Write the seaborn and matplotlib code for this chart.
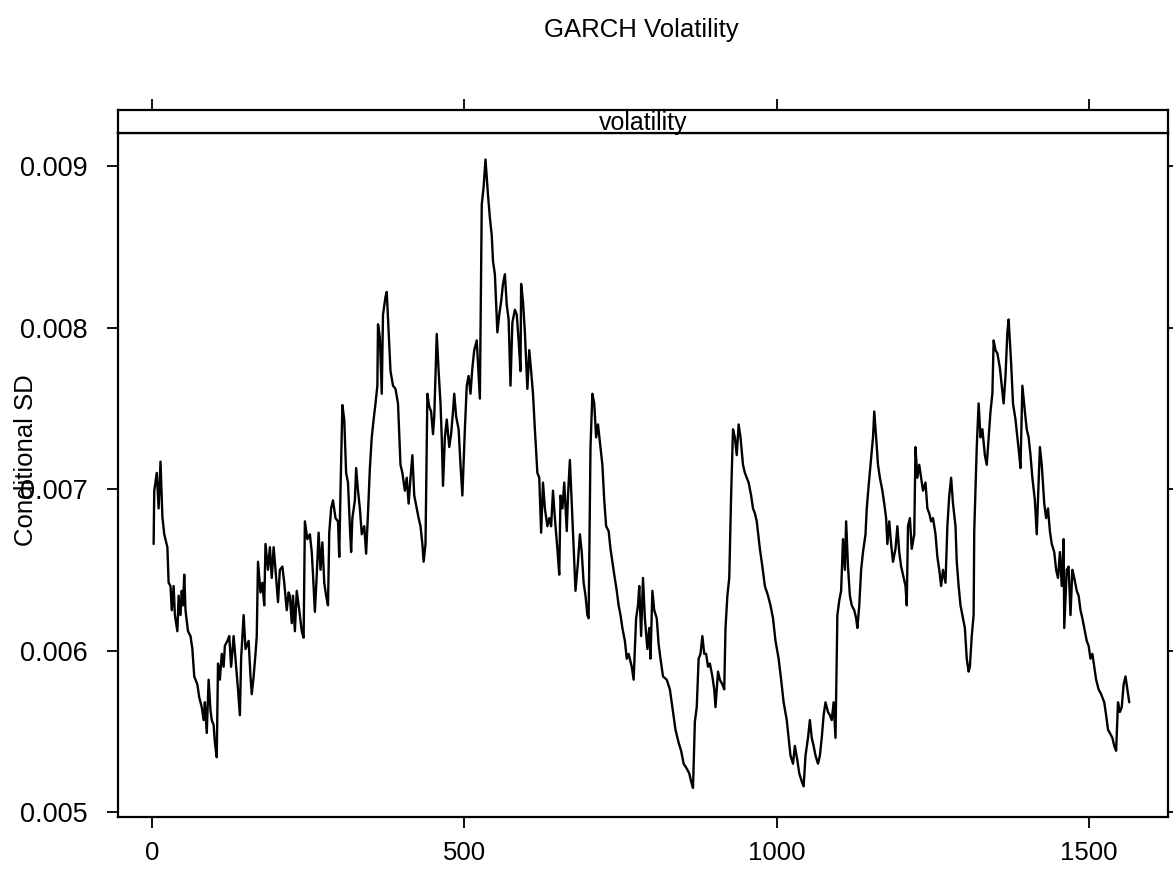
import matplotlib
matplotlib.use("Agg")
import matplotlib.pyplot as plt
import seaborn as sns
import pandas as pd

# ---- data ----
time_index = [
    3, 4, 8, 11, 14, 17, 20, 25, 27, 30, 32, 35, 37, 41, 43, 46, 48, 50, 52, 54, 58, 62, 65, 68, 73, 76, 80, 83, 85, 88, 91, 94, 96, 99, 101, 104,
    106, 109, 112, 115, 117, 121, 124, 127, 131, 134, 138, 141, 143, 147, 150, 155, 158, 160, 163, 166, 168, 170, 174, 177, 180, 182, 186, 189,
    192, 195, 198, 202, 205, 209, 212, 216, 219,
    221, 224, 226, 229, 232, 236, 240, 243, 245, 249, 253, 256, 258, 261, 264, 267, 270, 273, 276, 279, 282, 284, 287, 290, 294, 298, 300, 302,
    305, 308, 311, 314, 317, 319, 321, 325, 327, 330, 333, 336, 340, 343, 346, 349, 352, 355, 358, 361, 362, 365, 368, 370, 374, 376, 379, 382,
    386, 390, 394, 398, 401, 405, 408, 411, 414, 417, 420, 424, 427, 430, 433, 435, 438, 441, 444, 447, 450, 452, 456, 459, 462, 464, 466, 469,
    472, 476, 479, 482, 484, 487, 491, 494, 497,
    501, 504, 507, 510, 513, 516, 520, 523, 525, 528, 531, 534, 538, 541, 544, 546, 549, 553, 556, 559, 562, 565, 568, 571, 574, 577, 581, 584,
    587, 590, 591, 594, 597, 601, 604, 607, 610, 613, 617, 620, 623, 626, 629, 633, 636, 639, 642, 645, 649, 652, 654, 657, 660, 664, 666, 669,
    672, 675, 678, 682, 685, 688, 691, 694, 697, 699, 702, 705, 708, 711, 714, 718, 721, 724, 727, 731, 734, 737, 740, 744, 747, 750, 753, 757,
    760, 763,
    768, 771, 775, 778, 780, 783, 786, 789, 793, 796, 798, 801, 804, 808, 811, 814, 818, 824, 829, 834, 838, 843, 847, 851, 856, 860, 863, 866,
    869, 872, 875, 878, 881, 884, 887, 890, 893, 897, 900, 902, 904, 906, 909, 913, 916, 918, 921, 924, 927, 930, 933, 936, 939, 942, 946, 949,
    952, 955, 959, 962, 965, 968, 973, 977, 981, 986, 990, 994, 998, 1003, 1007, 1011, 1016, 1019, 1022, 1026, 1029, 1033, 1036,
    1040, 1043, 1046, 1050, 1053, 1056, 1059, 1062, 1066, 1069, 1072, 1075, 1078, 1082, 1085, 1088, 1091, 1094, 1097, 1100, 1103, 1106, 1109,
    1111, 1114, 1117, 1120, 1124, 1127, 1129, 1132, 1135, 1138, 1142, 1144, 1147, 1150, 1154, 1156, 1159, 1162, 1165, 1169, 1172, 1175, 1177,
    1180, 1183, 1186, 1190, 1193, 1196, 1199, 1202, 1206, 1208, 1210, 1213, 1216, 1220, 1222, 1225, 1228, 1231, 1234, 1238, 1241, 1244, 1247,
    1250, 1254, 1257, 1260, 1263, 1266, 1270, 1273, 1276, 1279, 1282, 1286, 1288, 1291, 1294, 1297, 1301, 1304, 1307,
    1309, 1312, 1315, 1316, 1320, 1323, 1326, 1329, 1333, 1336, 1339, 1342, 1345, 1347, 1350, 1353, 1357, 1360, 1363, 1366, 1369, 1371, 1373,
    1375, 1378, 1382, 1385, 1388, 1390, 1393, 1397, 1400, 1403, 1406, 1409, 1413, 1416, 1419, 1421, 1424, 1428, 1431, 1434, 1437, 1440, 1444,
    1447, 1450, 1453, 1456, 1459, 1460, 1464, 1467, 1470, 1473, 1476, 1480, 1483, 1486, 1489, 1492, 1496, 1499, 1502, 1505, 1508, 1511, 1515,
    1519, 1524, 1527, 1530, 1533, 1537, 1540, 1543, 1546, 1549, 1552, 1555, 1558, 1561, 1564,
]

conditional_sd = [
    0.00666, 0.00699, 0.00710, 0.00688, 0.00717, 0.00683, 0.00672, 0.00664, 0.00642, 0.00640, 0.00625, 0.00640, 0.00622, 0.00612, 0.00634,
    0.00622, 0.00637, 0.00628, 0.00647, 0.00625, 0.00612, 0.00609, 0.00601, 0.00584, 0.00579, 0.00571, 0.00565, 0.00557, 0.00568, 0.00549,
    0.00582, 0.00563, 0.00557, 0.00554, 0.00543, 0.00534,
    0.00592, 0.00582, 0.00598, 0.00590, 0.00603, 0.00606, 0.00609, 0.00590, 0.00609, 0.00595, 0.00576, 0.00560, 0.00595, 0.00622, 0.00601,
    0.00606, 0.00584, 0.00573, 0.00584, 0.00598, 0.00609, 0.00655, 0.00636, 0.00642, 0.00628, 0.00666, 0.00650, 0.00664, 0.00645, 0.00664,
    0.00650, 0.00630, 0.00650, 0.00652, 0.00642, 0.00625, 0.00636,
    0.00634, 0.00617, 0.00634, 0.00612, 0.00637, 0.00625, 0.00612, 0.00608, 0.00680, 0.00669, 0.00672, 0.00661, 0.00647, 0.00624, 0.00647,
    0.00673, 0.00650, 0.00667, 0.00642, 0.00634, 0.00628, 0.00673, 0.00688, 0.00693, 0.00682, 0.00680, 0.00658, 0.00699,
    0.00752, 0.00743, 0.00710, 0.00704, 0.00677, 0.00661, 0.00682, 0.00693, 0.00713, 0.00699, 0.00688, 0.00672, 0.00677, 0.00660, 0.00685,
    0.00713, 0.00732, 0.00743, 0.00753, 0.00764, 0.00802, 0.00794, 0.00759, 0.00808, 0.00819, 0.00822, 0.00797, 0.00773,
    0.00764, 0.00762, 0.00753, 0.00715, 0.00710, 0.00699, 0.00707, 0.00691, 0.00707, 0.00721, 0.00696, 0.00688, 0.00682, 0.00677, 0.00666,
    0.00655, 0.00666, 0.00759, 0.00751, 0.00748, 0.00734, 0.00745, 0.00796, 0.00773, 0.00753, 0.00732, 0.00702, 0.00732,
    0.00743, 0.00726, 0.00734, 0.00748, 0.00759, 0.00745, 0.00737, 0.00715, 0.00696,
    0.00737, 0.00764, 0.00770, 0.00759, 0.00775, 0.00786, 0.00792, 0.00770, 0.00756, 0.00876, 0.00887, 0.00904, 0.00882, 0.00868, 0.00857,
    0.00841, 0.00833, 0.00797, 0.00808, 0.00816, 0.00827, 0.00833, 0.00814, 0.00805, 0.00764, 0.00803, 0.00811, 0.00808,
    0.00792, 0.00773, 0.00827, 0.00816, 0.00797, 0.00762, 0.00786, 0.00773, 0.00759, 0.00737, 0.00710, 0.00707, 0.00673, 0.00704, 0.00688,
    0.00677, 0.00682, 0.00677, 0.00699, 0.00682, 0.00663, 0.00647, 0.00696, 0.00688, 0.00704, 0.00674, 0.00696, 0.00718,
    0.00691, 0.00663, 0.00637, 0.00655, 0.00672, 0.00661, 0.00642, 0.00634, 0.00622, 0.00620, 0.00726, 0.00759, 0.00753, 0.00732, 0.00740,
    0.00726, 0.00715, 0.00693, 0.00677, 0.00674, 0.00663, 0.00655, 0.00647, 0.00637, 0.00628, 0.00622, 0.00614, 0.00606,
    0.00595, 0.00598,
    0.00590, 0.00582, 0.00620, 0.00628, 0.00640, 0.00609, 0.00645, 0.00620, 0.00601, 0.00614, 0.00595, 0.00637, 0.00625, 0.00620, 0.00604,
    0.00595, 0.00584, 0.00582, 0.00576, 0.00562, 0.00551, 0.00543, 0.00538, 0.00530, 0.00527, 0.00524, 0.00519, 0.00515,
    0.00556, 0.00565, 0.00595, 0.00598, 0.00609, 0.00598, 0.00598, 0.00590, 0.00592, 0.00584, 0.00576, 0.00565, 0.00576, 0.00587, 0.00582,
    0.00579, 0.00576, 0.00614, 0.00634, 0.00645, 0.00696, 0.00737, 0.00732, 0.00721, 0.00740, 0.00732, 0.00715, 0.00710,
    0.00707, 0.00704, 0.00696, 0.00688, 0.00685, 0.00680, 0.00663, 0.00652, 0.00640, 0.00634, 0.00628, 0.00620, 0.00606, 0.00595, 0.00582,
    0.00568, 0.00557, 0.00546, 0.00535, 0.00530, 0.00541, 0.00532, 0.00524,
    0.00519, 0.00516, 0.00535, 0.00546, 0.00557, 0.00546, 0.00541, 0.00535, 0.00530, 0.00535, 0.00546, 0.00560, 0.00568, 0.00562, 0.00560,
    0.00557, 0.00568, 0.00546, 0.00622, 0.00631, 0.00637, 0.00669, 0.00650,
    0.00680, 0.00652, 0.00634, 0.00628, 0.00625, 0.00620, 0.00614, 0.00628, 0.00650, 0.00661, 0.00672, 0.00688, 0.00702, 0.00715, 0.00732,
    0.00748, 0.00732, 0.00715, 0.00707, 0.00699, 0.00691, 0.00682, 0.00666,
    0.00680, 0.00666, 0.00655, 0.00663, 0.00677, 0.00661, 0.00652, 0.00647, 0.00640, 0.00628, 0.00677, 0.00682, 0.00663, 0.00672, 0.00726,
    0.00707, 0.00715, 0.00707, 0.00699, 0.00704, 0.00688, 0.00685, 0.00680,
    0.00682, 0.00672, 0.00658, 0.00650, 0.00640, 0.00650, 0.00642, 0.00677, 0.00696, 0.00707, 0.00691, 0.00677, 0.00655, 0.00640, 0.00628,
    0.00622, 0.00614, 0.00595, 0.00587,
    0.00590, 0.00609, 0.00622, 0.00674, 0.00726, 0.00753, 0.00732, 0.00737, 0.00721, 0.00715, 0.00732, 0.00748, 0.00759, 0.00792, 0.00786,
    0.00784, 0.00775, 0.00764, 0.00753, 0.00770, 0.00797, 0.00805, 0.00792,
    0.00778, 0.00753, 0.00743, 0.00732, 0.00721, 0.00713, 0.00764, 0.00748, 0.00737, 0.00732, 0.00721, 0.00707, 0.00693, 0.00672, 0.00704,
    0.00726, 0.00715, 0.00691, 0.00682, 0.00688, 0.00674, 0.00666, 0.00661,
    0.00650, 0.00645, 0.00661, 0.00640, 0.00669, 0.00614, 0.00650, 0.00652, 0.00622, 0.00650, 0.00645, 0.00637, 0.00634, 0.00625, 0.00620,
    0.00614, 0.00606, 0.00603, 0.00595, 0.00598, 0.00590, 0.00582, 0.00576,
    0.00573, 0.00568, 0.00560, 0.00551, 0.00549, 0.00546, 0.00541, 0.00538, 0.00568, 0.00562, 0.00565, 0.00579, 0.00584, 0.00576, 0.00568,
]

x_ticks = [0, 500, 1000, 1500]
y_ticks = [0.005, 0.006, 0.007, 0.008, 0.009]
y_tick_labels = ["0.005", "0.006", "0.007", "0.008", "0.009"]
title_text = "GARCH Volatility"
strip_text = "volatility"
y_label = "Conditional SD"

df = pd.DataFrame({"t": time_index, "sd": conditional_sd})

# ---- styling ----
sns.set_theme(style="white")
plt.rcParams["font.family"] = ["Liberation Sans", "DejaVu Sans"]

W, H = 1173, 869
fig = plt.figure(figsize=(W / 100, H / 100), dpi=100)
fig.patch.set_facecolor("white")

# panel
ax = fig.add_axes([118 / W, (H - 817) / H, 1050 / W, 684 / H])
sns.lineplot(data=df, x="t", y="sd", ax=ax, color="black", linewidth=1.7,
             estimator=None, sort=False)
ax.set_xlim(-54, 1626)
ax.set_ylim(0.00497, 0.009204)
ax.set_xticks(x_ticks)
ax.set_xticklabels([str(v) for v in x_ticks])
ax.set_yticks(y_ticks)
ax.set_yticklabels(y_tick_labels)
ax.set_xlabel("")
ax.set_ylabel("")
ax.tick_params(axis="both", which="both", direction="out", length=8, width=1.3,
               color="black", labelcolor="black",
               bottom=True, left=True, right=True, top=False,
               labelright=False, labeltop=False)
ax.tick_params(axis="x", labelsize=18.5, pad=9)
ax.tick_params(axis="y", labelsize=19.5, pad=14)
for s in ax.spines.values():
    s.set_color("black")
    s.set_linewidth(1.6)
    s.set_visible(True)

# strip
sx = fig.add_axes([118 / W, (H - 133) / H, 1050 / W, 23 / H])
sx.set_xlim(ax.get_xlim())
sx.set_ylim(0, 1)
sx.set_facecolor("white")
sx.set_xticks(x_ticks)
sx.set_yticks([])
sx.tick_params(axis="x", direction="out", length=8, width=1.3, color="black",
               top=True, bottom=False, labeltop=False, labelbottom=False, pad=2)
sx.text(0.5, 0.42, strip_text, transform=sx.transAxes, ha="center", va="center",
        fontsize=18, color="black")
for s in sx.spines.values():
    s.set_color("black")
    s.set_linewidth(1.6)
    s.set_visible(True)

fig.text(641 / W, 1 - 30 / H, title_text, ha="center", va="center",
         fontsize=18.5, color="black")
fig.text(26 / W, 1 - 460 / H, y_label, ha="center", va="center",
         rotation=90, fontsize=18.5, color="black")

fig.savefig("out.png", dpi=100, facecolor="white")
